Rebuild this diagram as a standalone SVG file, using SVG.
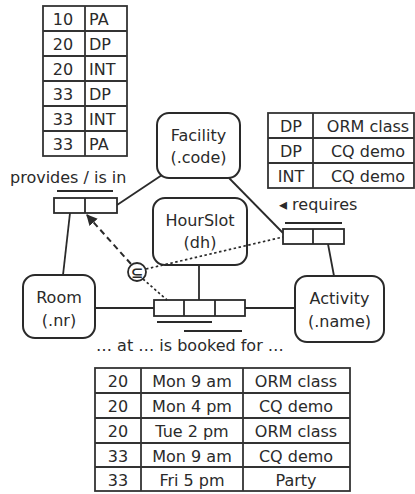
<svg xmlns="http://www.w3.org/2000/svg" width="415" height="494" viewBox="0 0 415 494">
<style>
text{font-family:"DejaVu Sans","Verdana",sans-serif;font-size:16px;fill:#2a2a2a}
.c{text-anchor:middle}
.tb{fill:none;stroke:#333;stroke-width:1.8}
.node{fill:#fff;stroke:#2a2a2a;stroke-width:2}
.role{fill:#fff;stroke:#2a2a2a;stroke-width:1.8}
.ln{fill:none;stroke:#2a2a2a;stroke-width:1.8}
.uc{stroke:#2a2a2a;stroke-width:2}
.dash{fill:none;stroke:#2a2a2a;stroke-width:2;stroke-dasharray:6 4}
.dot{fill:none;stroke:#2a2a2a;stroke-width:1.7;stroke-dasharray:2.5 2.5}
</style>
<defs>
<marker id="ah" viewBox="0 0 10 10" refX="9" refY="5" markerWidth="11" markerHeight="11" markerUnits="userSpaceOnUse" orient="auto">
<path d="M0,0 L10,5 L0,10 z" fill="#2a2a2a"/>
</marker>
</defs>
<rect width="415" height="494" fill="#fff"/>

<g id="table-provides">
<rect class="tb" x="43" y="6" width="84" height="150"/>
<line class="tb" x1="85" y1="6" x2="85" y2="156"/>
<line class="tb" x1="43" y1="31" x2="127" y2="31"/>
<line class="tb" x1="43" y1="56" x2="127" y2="56"/>
<line class="tb" x1="43" y1="81" x2="127" y2="81"/>
<line class="tb" x1="43" y1="106" x2="127" y2="106"/>
<line class="tb" x1="43" y1="131" x2="127" y2="131"/>
<text class="c" x="63" y="25">10</text><text x="89" y="25">PA</text>
<text class="c" x="63" y="50">20</text><text x="89" y="50">DP</text>
<text class="c" x="63" y="75">20</text><text x="89" y="75">INT</text>
<text class="c" x="63" y="100">33</text><text x="89" y="100">DP</text>
<text class="c" x="63" y="125">33</text><text x="89" y="125">INT</text>
<text class="c" x="63" y="150">33</text><text x="89" y="150">PA</text>
</g>

<g id="table-requires">
<rect class="tb" x="268" y="113" width="146" height="75"/>
<line class="tb" x1="313" y1="113" x2="313" y2="188"/>
<line class="tb" x1="268" y1="138" x2="414" y2="138"/>
<line class="tb" x1="268" y1="163" x2="414" y2="163"/>
<text class="c" x="291" y="132">DP</text><text class="c" x="368" y="132">ORM class</text>
<text class="c" x="291" y="157">DP</text><text class="c" x="368" y="157">CQ demo</text>
<text class="c" x="291" y="182">INT</text><text class="c" x="368" y="182">CQ demo</text>
</g>

<g id="table-booked">
<rect class="tb" x="95" y="368" width="255" height="123"/>
<line class="tb" x1="141" y1="368" x2="141" y2="491"/>
<line class="tb" x1="243" y1="368" x2="243" y2="491"/>
<line class="tb" x1="95" y1="393" x2="350" y2="393"/>
<line class="tb" x1="95" y1="418" x2="350" y2="418"/>
<line class="tb" x1="95" y1="443" x2="350" y2="443"/>
<line class="tb" x1="95" y1="467" x2="350" y2="467"/>
<text class="c" x="118" y="387">20</text><text class="c" x="192" y="387">Mon 9 am</text><text class="c" x="296" y="387">ORM class</text>
<text class="c" x="118" y="412">20</text><text class="c" x="192" y="412">Mon 4 pm</text><text class="c" x="296" y="412">CQ demo</text>
<text class="c" x="118" y="437">20</text><text class="c" x="192" y="437">Tue 2 pm</text><text class="c" x="296" y="437">ORM class</text>
<text class="c" x="118" y="462">33</text><text class="c" x="192" y="462">Mon 9 am</text><text class="c" x="296" y="462">CQ demo</text>
<text class="c" x="118" y="486">33</text><text class="c" x="192" y="486">Fri 5 pm</text><text class="c" x="296" y="486">Party</text>
</g>

<g id="connectors">
<line class="ln" x1="117" y1="205" x2="165" y2="173"/>
<line class="ln" x1="70" y1="213" x2="63" y2="275"/>
<line class="ln" x1="229" y1="178" x2="283" y2="233"/>
<line class="ln" x1="328" y1="244" x2="334" y2="276"/>
<line class="ln" x1="95" y1="308" x2="154" y2="308"/>
<line class="ln" x1="245" y1="308" x2="295" y2="308"/>
<line class="ln" x1="199" y1="265" x2="199" y2="300"/>
</g>

<g id="node-facility">
<rect class="node" x="157" y="113" width="83" height="65" rx="12"/>
<text class="c" x="198.5" y="141">Facility</text>
<text class="c" x="198.5" y="163">(.code)</text>
</g>
<g id="node-hourslot">
<rect class="node" x="153" y="198" width="94" height="67" rx="12"/>
<text class="c" x="200" y="226">HourSlot</text>
<text class="c" x="200" y="248">(dh)</text>
</g>
<g id="node-room">
<rect class="node" x="23" y="275" width="72" height="63" rx="12"/>
<text class="c" x="59" y="303">Room</text>
<text class="c" x="59" y="326">(.nr)</text>
</g>
<g id="node-activity">
<rect class="node" x="295" y="276" width="89" height="66" rx="12"/>
<text class="c" x="339.5" y="304">Activity</text>
<text class="c" x="339.5" y="327">(.name)</text>
</g>

<g id="fact-provides">
<text x="10" y="183">provides / is in</text>
<line class="uc" x1="57" y1="191" x2="113" y2="191"/>
<rect class="role" x="54" y="198" width="63" height="15"/>
<line class="role" x1="85" y1="198" x2="85" y2="213"/>
</g>

<g id="fact-requires">
<text x="279" y="210">◂ requires</text>
<line class="uc" x1="285" y1="223" x2="342" y2="223"/>
<rect class="role" x="283" y="229" width="61" height="15"/>
<line class="role" x1="313" y1="229" x2="313" y2="244"/>
</g>

<g id="fact-booked">
<rect class="role" x="154" y="300" width="91" height="16"/>
<line class="role" x1="184" y1="300" x2="184" y2="316"/>
<line class="role" x1="215" y1="300" x2="215" y2="316"/>
<line class="uc" x1="157" y1="322" x2="212" y2="322"/>
<line class="uc" x1="184" y1="331" x2="242" y2="331"/>
<text x="96" y="351">… at … is booked for …</text>
</g>

<g id="constraint-subset">
<line class="dash" x1="131" y1="264" x2="87" y2="215" marker-end="url(#ah)"/>
<line class="dot" x1="143" y1="279" x2="167" y2="300"/>
<line class="dot" x1="146" y1="269" x2="283" y2="237"/>
<circle cx="137" cy="272" r="9" fill="#fff" stroke="#2a2a2a" stroke-width="1.8"/>
<text class="c" x="137" y="277.5" style="font-size:15px;font-weight:bold">⊆</text>
</g>
</svg>
